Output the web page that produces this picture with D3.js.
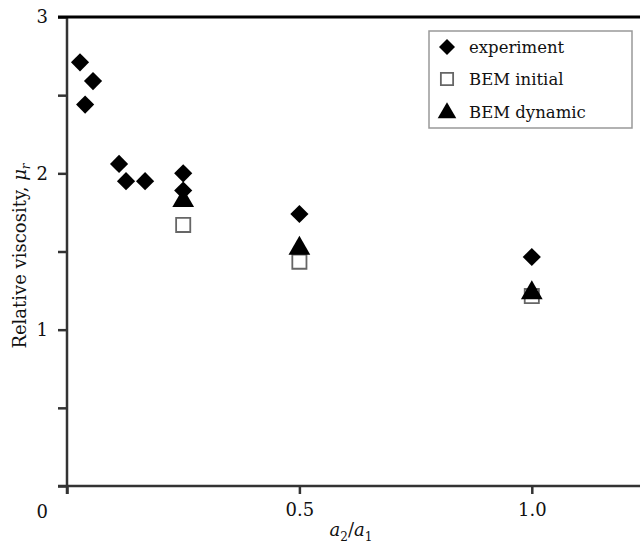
<!DOCTYPE html>
<html>
<head>
<meta charset="utf-8">
<script src="https://cdn.jsdelivr.net/npm/d3@7"></script>
<style>
  body { margin: 0; background: #fff; }
  svg { display: block; }
  svg text { font-family: "DejaVu Serif", serif; }
</style>
</head>
<body>
<div id="chart"></div>
<script>
// Data
const expX = [0.028, 0.056, 0.039, 0.112, 0.127, 0.168, 0.25, 0.25, 0.5, 1.0];
const expY = [2.71, 2.59, 2.44, 2.06, 1.95, 1.95, 2.0, 1.89, 1.74, 1.465];
const initX = [0.25, 0.5, 1.0];
const initY = [1.67, 1.435, 1.215];
const dynX = [0.25, 0.5, 1.0];
const dynY = [1.825, 1.52, 1.235];
const yTicks = [0, 0.5, 1, 1.5, 2, 2.5, 3];
const xTicks = [0, 0.5, 1.0];
const xTickLabels = ["", "0.5", "1.0"];
const legendLabels = ["experiment", "BEM initial", "BEM dynamic"];

const width = 640, height = 546;
const x = d3.scaleLinear().domain([0, 1.25]).range([67, 648]);
const y = d3.scaleLinear().domain([0, 3]).range([486, 17]);

const svg = d3.select("#chart").append("svg")
    .attr("width", width)
    .attr("height", height);

// symbols
const diamond = d3.symbol().type(d3.symbolSquare).size(165);
const square = d3.symbol().type(d3.symbolSquare).size(200);
const triangle = d3.symbol().type(d3.symbolTriangle).size(205);

// y axis
const yAxis = svg.append("g")
    .attr("transform", `translate(${x(0)},0)`)
    .call(d3.axisLeft(y).tickValues(yTicks).tickSize(9)
        .tickFormat(d => (d > 0 && Number.isInteger(d)) ? d : ""));
yAxis.select(".domain").remove();
yAxis.selectAll(".tick line").attr("stroke", "#333").attr("stroke-width", 2.5);
yAxis.selectAll(".tick text").attr("x", -19).attr("font-size", 18).attr("fill", "#111");

// x axis
const xAxis = svg.append("g")
    .attr("transform", `translate(0,${y(0)})`)
    .call(d3.axisBottom(x).tickValues(xTicks).tickSize(8)
        .tickFormat((d, i) => xTickLabels[i]));
xAxis.select(".domain").remove();
xAxis.selectAll(".tick line").attr("stroke", "#333").attr("stroke-width", 2.5);
xAxis.selectAll(".tick text").attr("y", 17).attr("font-size", 18).attr("fill", "#111");

// axis lines and top frame
svg.append("line").attr("x1", x(0)).attr("x2", x(0)).attr("y1", y(3)).attr("y2", y(0) + 8)
    .attr("stroke", "#333").attr("stroke-width", 2.5);
svg.append("line").attr("x1", x(0) - 9).attr("x2", width).attr("y1", y(0)).attr("y2", y(0))
    .attr("stroke", "#333").attr("stroke-width", 2.5);
svg.append("line").attr("x1", x(0) - 9).attr("x2", width).attr("y1", y(3)).attr("y2", y(3))
    .attr("stroke", "#000").attr("stroke-width", 3);

// origin label
svg.append("text").attr("x", 48).attr("y", 518).attr("text-anchor", "end")
    .attr("font-size", 18).attr("fill", "#111").text("0");

// axis titles
const xt = svg.append("text").attr("x", 351).attr("y", 536).attr("text-anchor", "middle")
    .attr("font-size", 18).attr("fill", "#111");
xt.append("tspan").attr("font-style", "italic").text("a");
xt.append("tspan").attr("font-size", 12).attr("dy", 5).text("2");
xt.append("tspan").attr("dy", -5).text("/");
xt.append("tspan").attr("font-style", "italic").text("a");
xt.append("tspan").attr("font-size", 12).attr("dy", 5).text("1");

const yt = svg.append("text").attr("transform", "translate(26,256) rotate(-90)")
    .attr("text-anchor", "middle").attr("font-size", 18).attr("fill", "#111");
yt.append("tspan").text("Relative viscosity, ");
yt.append("tspan").attr("font-style", "italic").text("μ");
yt.append("tspan").attr("font-style", "italic").attr("font-size", 12).attr("dy", 4).text("r");

// marks
const expData = expX.map((d, i) => [d, expY[i]]);
const initData = initX.map((d, i) => [d, initY[i]]);
const dynData = dynX.map((d, i) => [d, dynY[i]]);

svg.append("g").selectAll("path").data(initData).join("path")
    .attr("d", square)
    .attr("transform", d => `translate(${x(d[0])},${y(d[1])})`)
    .attr("fill", "#fff").attr("stroke", "#666").attr("stroke-width", 1.8);

svg.append("g").selectAll("path").data(dynData).join("path")
    .attr("d", triangle)
    .attr("transform", d => `translate(${x(d[0])},${y(d[1])})`)
    .attr("fill", "#000");

svg.append("g").selectAll("path").data(expData).join("path")
    .attr("d", diamond)
    .attr("transform", d => `translate(${x(d[0])},${y(d[1])}) rotate(45)`)
    .attr("fill", "#000");

// legend
const lg = svg.append("g");
lg.append("rect").attr("x", 429).attr("y", 31).attr("width", 203).attr("height", 97)
    .attr("fill", "#fff").attr("stroke", "#999").attr("stroke-width", 1.5);
const rows = [47, 79, 112];
lg.append("path").attr("d", d3.symbol().type(d3.symbolSquare).size(128)())
    .attr("transform", `translate(447,${rows[0]}) rotate(45)`).attr("fill", "#000");
lg.append("path").attr("d", d3.symbol().type(d3.symbolSquare).size(150)())
    .attr("transform", `translate(447,${rows[1]})`)
    .attr("fill", "#fff").attr("stroke", "#666").attr("stroke-width", 1.8);
lg.append("path").attr("d", d3.symbol().type(d3.symbolTriangle).size(150)())
    .attr("transform", `translate(447,${rows[2] + 1})`).attr("fill", "#000");
lg.selectAll("text").data(legendLabels).join("text")
    .attr("x", 469).attr("y", (d, i) => rows[i] + 6)
    .attr("font-size", 16.5).attr("fill", "#111").text(d => d);
</script>
</body>
</html>
